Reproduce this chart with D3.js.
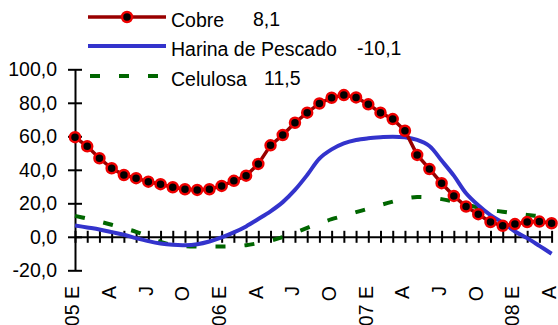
<!DOCTYPE html>
<html><head><meta charset="utf-8">
<script src="https://cdn.jsdelivr.net/npm/d3@7"></script>
<style>
html,body{margin:0;padding:0;background:#fff;}
svg{display:block;font-family:"Liberation Sans",Arial,sans-serif;}
</style></head>
<body><svg id="c" width="558" height="325"></svg>
<script>
const months = d3.range(40); // Jan 2005 .. Apr 2008
const xLabels = ["05 E","A","J","O","06 E","A","J","O","07 E","A","J","O","08 E","A"];
const yTicks = [-20, 0, 20, 40, 60, 80, 100];
const seriesNames = ["Cobre", "Harina de Pescado", "Celulosa"];
const cobre = [59.5, 54.0, 46.9, 40.9, 36.9, 35.0, 32.9, 31.4, 29.6, 28.4, 28.0, 28.4, 30.4, 33.4, 36.5, 43.5, 54.6, 60.8, 68.1, 74.1, 79.6, 83.0, 84.6, 83.2, 79.1, 74.1, 70.3, 63.3, 48.9, 40.5, 32.0, 24.4, 18.1, 13.5, 8.8, 6.6, 7.6, 8.8, 9.1, 8.1];
const harina = [6.8, 5.6, 4.4, 2.8, 1.2, -0.8, -2.6, -4.0, -4.8, -5.0, -4.4, -2.8, -0.4, 2.6, 6.2, 10.6, 15.2, 20.7, 28.0, 36.9, 46.7, 52.2, 55.8, 57.8, 58.8, 59.4, 59.8, 59.4, 57.8, 54.2, 45.5, 36.5, 26.0, 18.8, 12.9, 8.5, 3.2, -0.8, -5.4, -10.1];
const celulosa = [12.5, 10.9, 9.1, 7.2, 5.1, 3.0, 0.2, -3.0, -4.8, -5.6, -5.8, -5.8, -5.8, -5.6, -5.0, -3.8, -2.3, -0.2, 2.5, 5.3, 8.0, 10.5, 12.5, 14.7, 16.8, 19.0, 21.0, 22.8, 23.8, 23.5, 22.5, 21.0, 19.2, 17.5, 16.0, 15.0, 14.0, 13.0, 12.3, 11.5];

const loc = d3.formatLocale({decimal: ",", thousands: ".", grouping: [3], currency: ["$", ""], minus: "-"});
const fmt = loc.format(".1f");

const svg = d3.select("#c");
const FS = 19.5;
const x = d3.scaleLinear().domain([0, 39]).range([75, 551.6]);
const y = d3.scaleLinear().domain([-20, 100]).range([270.3, 69.3]);

// Y axis
const gy = svg.append("g").attr("transform", `translate(${x(0)},0)`)
  .call(d3.axisLeft(y).tickValues(yTicks).tickFormat(fmt).tickSizeOuter(0).tickSizeInner(7).tickPadding(11));
gy.select(".domain").attr("stroke", "#000").attr("stroke-width", 2);
gy.selectAll(".tick line").attr("x1", -7).attr("x2", 7).attr("stroke", "#000").attr("stroke-width", 2);
gy.selectAll(".tick text").attr("font-size", FS).attr("font-family", "Liberation Sans, Arial, sans-serif").attr("fill", "#000");

// X axis at zero
const gx = svg.append("g").attr("transform", `translate(0,${y(0)})`)
  .call(d3.axisBottom(x).tickValues(months).tickFormat("").tickSizeOuter(0).tickSizeInner(6));
gx.select(".domain").attr("stroke", "#000").attr("stroke-width", 2);
gx.selectAll(".tick line").attr("y1", -6).attr("y2", 6).attr("stroke", "#000").attr("stroke-width", 2);

// X labels (rotated)
svg.append("g").selectAll("text").data(xLabels).join("text")
  .attr("transform", (d, i) => `translate(${x(i * 3)},286) rotate(-90)`)
  .attr("text-anchor", "end").attr("dy", "0.22em")
  .attr("font-size", FS).attr("fill", "#000").text(d => d);

// Lines
const lineSmooth = d3.line().x((d, i) => x(i)).y(d => y(d)).curve(d3.curveCatmullRom.alpha(0.5));
const lineStraight = d3.line().x((d, i) => x(i)).y(d => y(d));

svg.append("path").datum(celulosa).attr("d", lineSmooth)
  .attr("fill", "none").attr("stroke", "#006600").attr("stroke-width", 4).attr("stroke-dasharray", "10,19");
svg.append("path").datum(harina).attr("d", lineSmooth)
  .attr("fill", "none").attr("stroke", "#3333cc").attr("stroke-width", 4);
svg.append("path").datum(cobre).attr("d", lineStraight)
  .attr("fill", "none").attr("stroke", "#990000").attr("stroke-width", 3.5);
svg.append("g").selectAll("circle").data(cobre).join("circle")
  .attr("cx", (d, i) => x(i)).attr("cy", d => y(d)).attr("r", 5)
  .attr("fill", "#000").attr("stroke", "#ee0000").attr("stroke-width", 2.5);

// Legend
const lastVals = [cobre[cobre.length - 1], harina[harina.length - 1], celulosa[celulosa.length - 1]];
const legRows = [17, 46, 76];
const legNumX = [253, 357, 264];
const lg = svg.append("g");
lg.append("line").attr("x1", 88).attr("x2", 166).attr("y1", legRows[0]).attr("y2", legRows[0]).attr("stroke", "#990000").attr("stroke-width", 3.5);
lg.append("circle").attr("cx", 127).attr("cy", legRows[0]).attr("r", 5).attr("fill", "#000").attr("stroke", "#ee0000").attr("stroke-width", 2.5);
lg.append("line").attr("x1", 88).attr("x2", 166).attr("y1", legRows[1]).attr("y2", legRows[1]).attr("stroke", "#3333cc").attr("stroke-width", 4);
lg.append("line").attr("x1", 90).attr("x2", 166).attr("y1", legRows[2]).attr("y2", legRows[2]).attr("stroke", "#006600").attr("stroke-width", 4).attr("stroke-dasharray", "10,19");
seriesNames.forEach((n, i) => {
  lg.append("text").attr("x", 171).attr("y", legRows[i] + 10).attr("font-size", FS).attr("fill", "#000").text(n);
  lg.append("text").attr("x", legNumX[i]).attr("y", legRows[i] + 9).attr("font-size", FS).attr("fill", "#000").text(fmt(lastVals[i]));
});
</script></body></html>
